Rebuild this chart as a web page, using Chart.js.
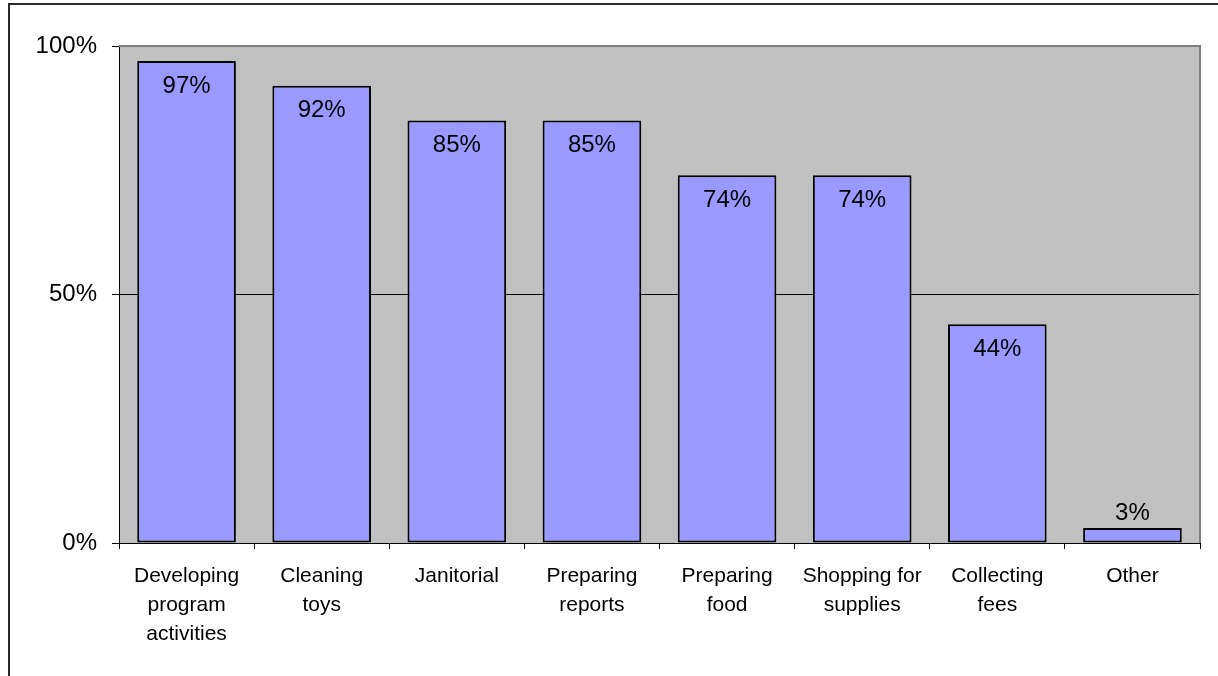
<!DOCTYPE html>
<html>
<head>
<meta charset="utf-8">
<script src="https://cdn.jsdelivr.net/npm/chart.js@4/dist/chart.umd.min.js"></script>
<style>
  html, body { margin: 0; padding: 0; background: #ffffff; }
  #wrap { width: 1218px; height: 676px; }
</style>
</head>
<body>
<div id="wrap"><canvas id="c" width="1218" height="676"></canvas></div>
<script>
// Share of tasks performed (percent)
const categories = [
  ['Developing', 'program', 'activities'],
  ['Cleaning', 'toys'],
  ['Janitorial'],
  ['Preparing', 'reports'],
  ['Preparing', 'food'],
  ['Shopping for', 'supplies'],
  ['Collecting', 'fees'],
  ['Other']
];
const values = [97, 92, 85, 85, 74, 74, 44, 3];
const yTicks = [0, 50, 100];

const FONT = '"Liberation Sans", Arial, Helvetica, sans-serif';

// Grey plot background, grey top/right frame and the outer box line
const framePlugin = {
  id: 'frame',
  beforeDraw(chart) {
    const { ctx, chartArea: a } = chart;
    ctx.save();
    ctx.fillStyle = '#ffffff';
    ctx.fillRect(0, 0, chart.width, chart.height);
    ctx.fillStyle = '#C0C0C0';
    ctx.fillRect(a.left, a.top, a.right - a.left, a.bottom - a.top);
    ctx.strokeStyle = '#2a2a2a';
    ctx.lineWidth = 2;
    ctx.strokeRect(9, 4, chart.width + 40, chart.height + 40);
    ctx.restore();
  },
  afterDatasetsDraw(chart) {
    const { ctx, chartArea: a } = chart;
    ctx.save();
    ctx.strokeStyle = '#808080';
    ctx.lineWidth = 2;
    ctx.beginPath();
    ctx.moveTo(a.left, a.top);
    ctx.lineTo(a.right, a.top);
    ctx.lineTo(a.right, a.bottom);
    ctx.stroke();
    ctx.restore();
  }
};

// Percentage labels inside the top of each bar (above it when the bar is short)
const valueLabels = {
  id: 'valueLabels',
  afterDatasetsDraw(chart) {
    const { ctx } = chart;
    const meta = chart.getDatasetMeta(0);
    ctx.save();
    ctx.font = '24px ' + FONT;
    ctx.fillStyle = '#000000';
    ctx.textAlign = 'center';
    ctx.textBaseline = 'middle';
    meta.data.forEach((bar, i) => {
      const h = bar.base - bar.y;
      const y = h > 40 ? bar.y + 25 : bar.y - 15;
      ctx.fillText(values[i] + '%', bar.x, y);
    });
    ctx.restore();
  }
};

new Chart(document.getElementById('c'), {
  type: 'bar',
  data: {
    labels: categories,
    datasets: [{
      data: values,
      backgroundColor: '#9999FF',
      borderColor: '#000000',
      borderWidth: 2,
      borderSkipped: false,
      barPercentage: 0.73,
      categoryPercentage: 1.0
    }]
  },
  options: {
    responsive: false,
    animation: false,
    devicePixelRatio: 1,
    layout: { padding: { left: 0, top: 46, right: 18, bottom: 0 } },
    plugins: {
      legend: { display: false },
      tooltip: { enabled: false }
    },
    scales: {
      x: {
        grid: {
          offset: true,
          drawOnChartArea: false,
          drawTicks: true,
          tickLength: 6,
          tickColor: '#000000',
          lineWidth: 1
        },
        border: { display: true, color: '#000000', width: 1 },
        ticks: {
          color: '#000000',
          font: { family: FONT, size: 21, lineHeight: 1.38 },
          padding: 13,
          maxRotation: 0,
          autoSkip: false
        },
        afterFit(scale) { scale.height = 133; }
      },
      y: {
        min: 0,
        max: 100,
        afterBuildTicks(scale) { scale.ticks = yTicks.map(v => ({ value: v })); },
        grid: {
          color: (c) => c.tick && c.tick.value === 50 ? '#000000' : 'rgba(0,0,0,0)',
          lineWidth: 1,
          drawTicks: true,
          tickLength: 7,
          tickColor: '#000000'
        },
        border: { display: true, color: '#000000', width: 1 },
        ticks: {
          color: '#000000',
          font: { family: FONT, size: 24 },
          padding: 15,
          callback: (v) => v + '%'
        },
        afterFit(scale) { scale.width = 119; }
      }
    }
  },
  plugins: [framePlugin, valueLabels]
});
</script>
</body>
</html>
